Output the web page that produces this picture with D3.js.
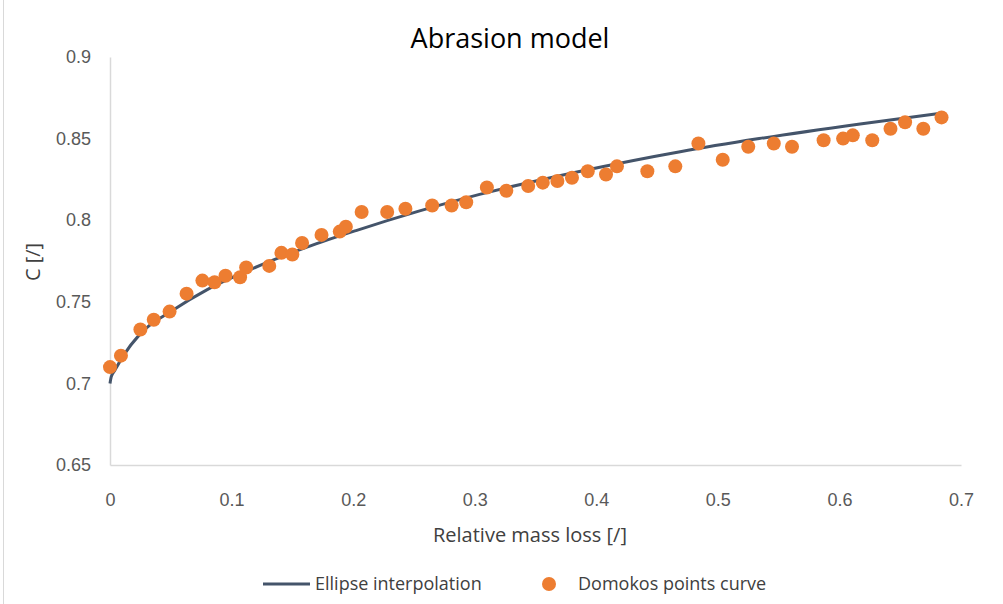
<!DOCTYPE html>
<html>
<head>
<meta charset="utf-8">
<script src="https://cdn.jsdelivr.net/npm/d3@7"></script>
<style>
  body { margin: 0; background: #fff; }
  svg { display: block; font-family: 'Open Sans', 'Noto Sans', sans-serif; }
  .tick text { fill: #595959; font-size: 18px; }
  .title { fill: #000; font-size: 27px; }
  .axis-title { fill: #404040; font-size: 20px; }
  .legend text { fill: #404040; font-size: 18px; }
</style>
</head>
<body>
<svg id="chart" width="1003" height="604"></svg>
<script>
// points
let pointsX = [0, 0.009, 0.025, 0.036, 0.049, 0.063, 0.076, 0.086, 0.095, 0.107,
  0.112, 0.131, 0.141, 0.150, 0.158, 0.174, 0.189, 0.194, 0.207, 0.228,
  0.243, 0.265, 0.281, 0.293, 0.310, 0.326, 0.344, 0.356, 0.368, 0.380,
  0.393, 0.408, 0.417, 0.442, 0.465, 0.484, 0.504, 0.525, 0.546, 0.561,
  0.587, 0.603, 0.611, 0.627, 0.642, 0.654, 0.669, 0.684]
let pointsY = [0.710, 0.717, 0.733, 0.739, 0.744, 0.755, 0.763, 0.762, 0.766, 0.765,
  0.771, 0.772, 0.780, 0.779, 0.786, 0.791, 0.793, 0.796, 0.805, 0.805,
  0.807, 0.809, 0.809, 0.811, 0.820, 0.818, 0.821, 0.823, 0.824, 0.826,
  0.830, 0.828, 0.833, 0.830, 0.833, 0.847, 0.837, 0.845, 0.847, 0.845,
  0.849, 0.850, 0.852, 0.849, 0.856, 0.860, 0.856, 0.863]

// ellipse curve
let curveX = [0, 0.001, 0.004, 0.011, 0.025, 0.052, 0.080, 0.107, 0.134,
  0.162, 0.203, 0.304, 0.387, 0.469, 0.534, 0.617, 0.685]
let curveY = [0.700, 0.704, 0.708, 0.717, 0.7305, 0.745, 0.7575, 0.767, 0.7755,
  0.7835, 0.7938, 0.8158, 0.830, 0.842, 0.850, 0.859, 0.8657]

let xTicks = [0, 0.1, 0.2, 0.3, 0.4, 0.5, 0.6, 0.7]
let yTicks = [0.65, 0.7, 0.75, 0.8, 0.85, 0.9]

let margin = { left: 110, right: 961, top: 57, bottom: 465 }
let svg = d3.select('#chart')

let x = d3.scaleLinear().domain([0, 0.7]).range([margin.left, margin.right])
let y = d3.scaleLinear().domain([0.65, 0.9]).range([margin.bottom, margin.top])

// chart area border (only the left edge shows)
svg.append('line')
  .attr('x1', 3.5).attr('x2', 3.5)
  .attr('y1', 0).attr('y2', 604)
  .attr('stroke', '#d9d9d9')

let xAxis = svg.append('g')
  .attr('transform', 'translate(0,' + margin.bottom + ')')
  .call(d3.axisBottom(x).tickValues(xTicks).tickSize(0).tickPadding(28).tickFormat(d3.format('')))
xAxis.select('.domain').attr('stroke', '#d9d9d9').attr('stroke-width', 1.5)

let yAxis = svg.append('g')
  .attr('transform', 'translate(' + margin.left + ',0)')
  .call(d3.axisLeft(y).tickValues(yTicks).tickSize(0).tickPadding(19).tickFormat(d3.format('')))
yAxis.select('.domain').attr('stroke', '#d9d9d9').attr('stroke-width', 1.5)
svg.selectAll('.tick text').attr('font-family', null).attr('font-size', null)

let line = d3.line()
  .x(function(d) { return x(d[0]) })
  .y(function(d) { return y(d[1]) })
  .curve(d3.curveMonotoneX)

svg.append('path')
  .datum(d3.zip(curveX, curveY))
  .attr('d', line)
  .attr('fill', 'none')
  .attr('stroke', '#44546A')
  .attr('stroke-width', 3)

svg.append('g')
  .selectAll('circle')
  .data(d3.zip(pointsX, pointsY))
  .join('circle')
  .attr('cx', function(d) { return x(d[0]) })
  .attr('cy', function(d) { return y(d[1]) })
  .attr('r', 7)
  .attr('fill', '#ED7D31')

svg.append('text')
  .attr('class', 'title')
  .attr('x', 510).attr('y', 48)
  .attr('text-anchor', 'middle')
  .text('Abrasion model')

svg.append('text')
  .attr('class', 'axis-title')
  .attr('x', 530).attr('y', 542)
  .attr('text-anchor', 'middle')
  .text('Relative mass loss [/]')

svg.append('text')
  .attr('class', 'axis-title')
  .attr('transform', 'translate(40,262) rotate(-90)')
  .attr('text-anchor', 'middle')
  .text('C [/]')

let legend = svg.append('g').attr('class', 'legend')
legend.append('line')
  .attr('x1', 263).attr('x2', 310)
  .attr('y1', 584).attr('y2', 584)
  .attr('stroke', '#44546A')
  .attr('stroke-width', 3)
legend.append('text')
  .attr('x', 315).attr('y', 590)
  .text('Ellipse interpolation')
legend.append('circle')
  .attr('cx', 549).attr('cy', 584)
  .attr('r', 7)
  .attr('fill', '#ED7D31')
legend.append('text')
  .attr('x', 578).attr('y', 590)
  .text('Domokos points curve')
</script>
</body>
</html>
